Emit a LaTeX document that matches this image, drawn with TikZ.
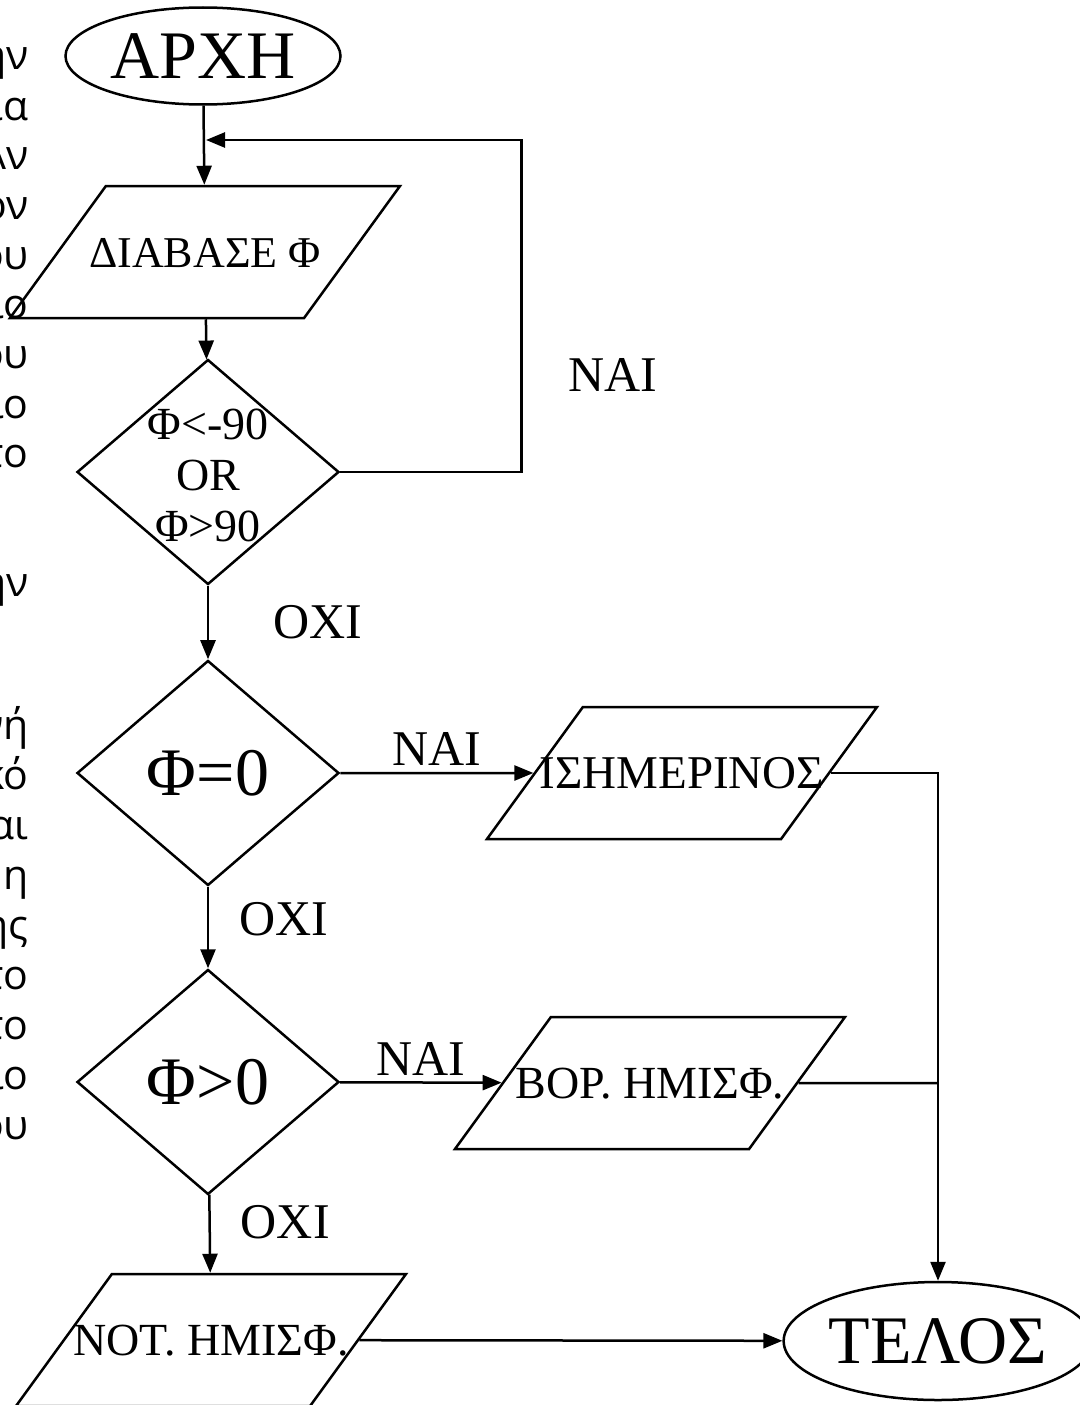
\documentclass[tikz,border=0pt]{standalone}
\usepackage{fontspec}
\setmainfont{Liberation Serif}
\newfontfamily\fragfont{Open Sans}
\usetikzlibrary{positioning}
\usetikzlibrary{shapes.geometric}
\usetikzlibrary{arrows.meta}

\begin{document}
\begin{tikzpicture}[x=1pt, y=-1pt, ->, >={Triangle[length=19pt,width=15pt]}, draw, black, line width=2.5pt,
  terminal/.style={ellipse, draw, minimum width=275pt, minimum height=97pt, inner sep=0pt, font=\fontsize{68}{72}\selectfont},
  io/.style={trapezium, trapezium left angle=54, trapezium right angle=126, trapezium stretches body, draw, minimum width=390pt, text height=81pt, text depth=51pt, inner sep=0pt, font=\fontsize{46}{50}\selectfont},
  decision/.style={diamond, draw, minimum width=262pt, minimum height=225pt, inner sep=0pt, font=\fontsize{68}{72}\selectfont},
  lbl/.style={font=\fontsize{50}{54}\selectfont, inner sep=2pt},
  frag/.style={anchor=base east, inner sep=0pt, font=\fragfont\fontsize{41}{49}\selectfont}]
  \useasboundingbox (0,0) rectangle (1079,1405);

  % cut-off words at the left margin
  \node[frag] (f1) at (30,70) {ην};
  \node[frag] (f2) at (30,120) {ια};
  \node[frag] (f3) at (30,169) {Αν};
  \node[frag] (f4) at (30,219) {ον};
  \node[frag] (f5) at (30,269) {ου};
  \node[frag] (f6) at (30,318) {ιο};
  \node[frag] (f7) at (30,368) {ου};
  \node[frag] (f8) at (30,418) {ιο};
  \node[frag] (f9) at (30,467) {το};
  \node[frag] (f10) at (30,596) {ην};
  \node[frag] (f11) at (30,739) {νή};
  \node[frag] (f12) at (30,789) {κό};
  \node[frag] (f13) at (30,839) {αι};
  \node[frag] (f14) at (30,889) {η};
  \node[frag] (f15) at (30,939) {ης};
  \node[frag] (f16) at (30,989) {το};
  \node[frag] (f17) at (30,1039) {το};
  \node[frag] (f18) at (30,1089) {ίο};
  \node[frag] (f19) at (30,1139) {ου};

  \node[terminal] (start) at (203,56) {ΑΡΧΗ};
  \node[io, font=\fontsize{44}{50}\selectfont] (read) at (205,252) {\makebox[0pt]{ΔΙΑΒΑΣΕ Φ}};
  \node[decision, font=\fontsize{46}{51}\selectfont] (range) at (208,472)
    {\makebox[0pt]{\smash{\raisebox{-15pt}{\begin{tabular}{@{}c@{}}Φ<-90\\OR\\Φ>90\end{tabular}}}}};
  \node[decision] (iszero) at (208,773) {Φ=0};
  \node[io, font=\fontsize{47}{50}\selectfont] (equator) at (682,773) {\makebox[0pt]{ΙΣΗΜΕΡΙΝΟΣ}};
  \node[decision] (ispos) at (208,1082) {Φ>0};
  \node[io] (north) at (650,1083) {\makebox[0pt]{ΒΟΡ. ΗΜΙΣΦ.}};
  \node[io] (south) at (211,1340) {\makebox[0pt]{ΝΟΤ. ΗΜΙΣΦ.}};
  \node[terminal, minimum height=118pt] (end) at (938,1341) {ΤΕΛΟΣ};

  \coordinate (merge) at (206,140);
  \coordinate (join) at (north -| end);

  \path
  (start) edge (read)
  (read) edge (range)
  (range) edge node[lbl, right=62pt] {ΟΧΙ} (iszero)
  (iszero) edge node[lbl, above=4pt] {ΝΑΙ} (equator)
  (iszero) edge node[lbl, right=28pt, pos=0.4] {ΟΧΙ} (ispos)
  (ispos) edge node[lbl, above=4pt] {ΝΑΙ} (north)
  (ispos) edge node[lbl, right=28pt, pos=0.35] {ΟΧΙ} (south)
  (south) edge (end);

  \draw (range.east) -- ++(181,0) |- node[lbl, pos=0.146, right=44pt] {ΝΑΙ} (merge);
  \draw (equator) -| (end);
  \draw[-] (north) -- (join);
\end{tikzpicture}
\end{document}
